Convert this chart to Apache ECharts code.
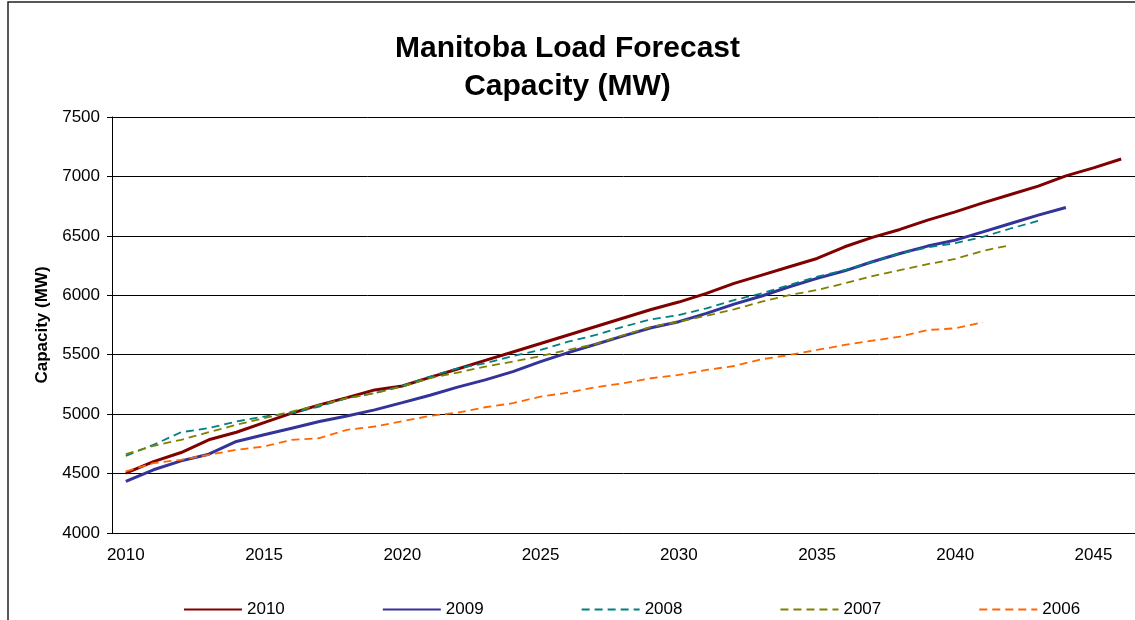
<!DOCTYPE html>
<html>
<head>
<meta charset="utf-8">
<title>Manitoba Load Forecast</title>
<script src="https://cdn.jsdelivr.net/npm/echarts@6/dist/echarts.min.js"></script>
<style>
  /* chart fills the 1135x620 window */
  html, body { margin: 0; padding: 0; background: #fff; }
  #myChart { width: 1135px; height: 620px; }
</style>
</head>
<body>
<div id="myChart"></div>
<script>
// categories: forecast year
var years = []
for (var y = 2010; y <= 2046; y++) years.push(String(y))

// forecast capacity (MW) by forecast vintage
var f2010 = [4504, 4601, 4677, 4784, 4848, 4929, 5008, 5078, 5139, 5204,
  5237, 5309, 5380, 5452, 5523, 5594, 5666, 5737, 5809, 5880,
  5943, 6016, 6100, 6170, 6240, 6310, 6408, 6487, 6554, 6632,
  6702, 6778, 6848, 6918, 7005, 7072, 7147]
var f2009 = [4434, 4532, 4607, 4663, 4770, 4826, 4882, 4938, 4985, 5036,
  5097, 5159, 5227, 5288, 5358, 5442, 5518, 5588, 5658, 5727,
  5778, 5848, 5926, 5994, 6072, 6142, 6206, 6282, 6352, 6414,
  6464, 6534, 6604, 6674, 6739]
var f2008 = [4649, 4742, 4848, 4882, 4938, 4980, 5008, 5064, 5134, 5176,
  5240, 5316, 5386, 5428, 5489, 5540, 5610, 5666, 5736, 5798,
  5834, 5890, 5960, 6016, 6086, 6156, 6212, 6282, 6352, 6403,
  6438, 6492, 6562, 6626]
var f2007 = [4663, 4733, 4784, 4848, 4910, 4966, 5022, 5078, 5134, 5176,
  5232, 5303, 5349, 5400, 5442, 5489, 5540, 5590, 5665, 5735,
  5778, 5828, 5882, 5946, 6002, 6044, 6100, 6162, 6212, 6262,
  6306, 6374, 6422]
var f2006 = [4518, 4588, 4616, 4658, 4700, 4728, 4784, 4798, 4868, 4896,
  4940, 4985, 5013, 5058, 5092, 5148, 5181, 5227, 5260, 5302,
  5330, 5372, 5405, 5462, 5498, 5540, 5582, 5618, 5652, 5708,
  5722, 5773]

var seriesNames = ['2010', '2009', '2008', '2007', '2006']
var seriesData = [f2010, f2009, f2008, f2007, f2006]
var seriesColors = ['#800000', '#333399', '#008080', '#808000', '#FF6600']
var yTicks = { min: 4000, max: 7500, step: 500 }

var font = '"Liberation Sans", Arial, sans-serif'

var series = seriesNames.map(function (name, i) {
  var solid = i < 2
  return {
    name: name,
    type: 'line',
    data: seriesData[i],
    symbol: 'none',
    animation: false,
    lineStyle: {
      color: seriesColors[i],
      width: solid ? 3 : 1.8,
      type: solid ? 'solid' : [8, 5]
    },
    itemStyle: { color: seriesColors[i] }
  }
})

var option = {
  backgroundColor: '#fff',
  textStyle: { fontFamily: font, color: '#000' },
  title: {
    text: 'Manitoba Load Forecast\nCapacity (MW)',
    left: 'center',
    top: 25,
    textStyle: { fontFamily: font, fontSize: 30, fontWeight: 'bold', color: '#000', lineHeight: 38 }
  },
  // outer chart frame (right/bottom edges are outside the picture)
  graphic: [{
    type: 'rect',
    shape: { x: 8, y: 2, width: 1200, height: 700 },
    style: { fill: null, stroke: '#222', lineWidth: 1.5 },
    silent: true
  }],
  legend: {
    left: 178,
    top: 596,
    itemWidth: 58,
    itemHeight: 18,
    itemGap: 97,
    itemStyle: { opacity: 0 }, // line only, no marker
    textStyle: { fontFamily: font, fontSize: 17, color: '#000', padding: [0, 0, 0, 0] },
    data: seriesNames
  },
  grid: { left: 112, right: -6, top: 117, bottom: 87 },
  xAxis: {
    type: 'category',
    data: years,
    boundaryGap: true,
    axisLine: { lineStyle: { color: '#000', width: 1 } },
    axisTick: { interval: 0, length: 5, lineStyle: { color: '#000' } },
    axisLabel: { interval: 4, margin: 14, fontSize: 17, color: '#000', fontFamily: font },
    splitLine: { show: false }
  },
  yAxis: {
    type: 'value',
    min: yTicks.min,
    max: yTicks.max,
    interval: yTicks.step,
    name: 'Capacity (MW)',
    nameLocation: 'middle',
    nameGap: 51,
    nameTextStyle: { fontFamily: font, fontSize: 17, fontWeight: 'bold', color: '#000' },
    axisLine: { show: true, lineStyle: { color: '#000', width: 1 } },
    axisTick: { show: true, length: 5, lineStyle: { color: '#000' } },
    axisLabel: {
      margin: 12, fontSize: 17, color: '#000', fontFamily: font,
      formatter: function (v) { return String(v) }
    },
    splitLine: { show: true, lineStyle: { color: '#000', width: 1 } }
  },
  series: series
}

var myChart = echarts.init(document.getElementById('myChart'), null, { renderer: 'canvas' })
myChart.setOption(option)
</script>
</body>
</html>
